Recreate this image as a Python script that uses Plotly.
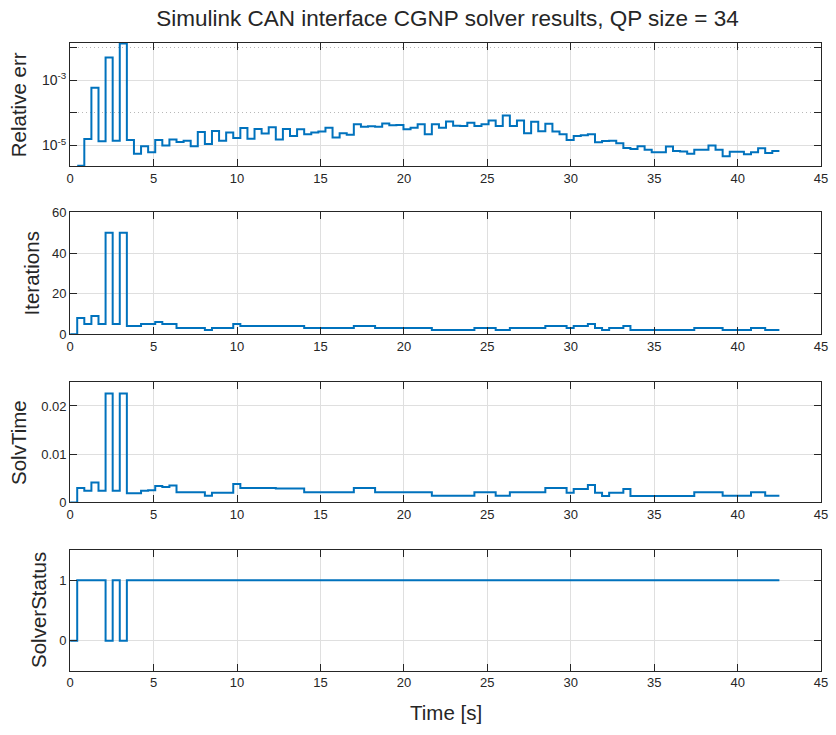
import plotly.graph_objects as go

# ---- data ----
time_s = [0, 0.425, 0.85, 1.275, 1.7, 2.125, 2.55, 2.975, 3.4, 3.825,
          4.25, 4.675, 5.1, 5.525, 5.95, 6.375, 6.8, 7.225, 7.65, 8.075,
          8.5, 8.925, 9.35, 9.775, 10.2, 10.625, 11.05, 11.475, 11.9, 12.325,
          12.75, 13.175, 13.6, 14.025, 14.45, 14.875, 15.3, 15.725, 16.15, 16.575,
          17.0, 17.425, 17.85, 18.275, 18.7, 19.125, 19.55, 19.975, 20.4, 20.825,
          21.25, 21.675, 22.1, 22.525, 22.95, 23.375, 23.8, 24.225, 24.65, 25.075,
          25.5, 25.925, 26.35, 26.775, 27.2, 27.625, 28.05, 28.475, 28.9, 29.325,
          29.75, 30.175, 30.6, 31.025, 31.45, 31.875, 32.3, 32.725, 33.15, 33.575,
          34.0, 34.425, 34.85, 35.275, 35.7, 36.125, 36.55, 36.975, 37.4, 37.825,
          38.25, 38.675, 39.1, 39.525, 39.95, 40.375, 40.8, 41.225, 41.65, 42.075,
          42.5]

relative_err = [None, 2.40e-6, 1.58e-5, 5.9e-4, 1.35e-5, 5.0e-3, 1.41e-5, 1.35e-2, 1.48e-5, 5.6e-6,
                9.5e-6, 6.3e-6, 1.48e-5, 1.0e-5, 1.55e-5, 1.29e-5, 1.41e-5, 9.5e-6, 2.63e-5, 1.12e-5,
                2.82e-5, 1.41e-5, 2.51e-5, 1.70e-5, 3.47e-5, 1.62e-5, 3.24e-5, 2.34e-5, 3.63e-5, 1.55e-5,
                3.24e-5, 1.95e-5, 3.16e-5, 2.24e-5, 2.51e-5, 2.69e-5, 3.55e-5, 1.78e-5, 2.40e-5, 2.14e-5,
                4.47e-5, 3.80e-5, 3.89e-5, 3.80e-5, 4.79e-5, 4.17e-5, 4.27e-5, 3.16e-5, 3.55e-5, 4.47e-5,
                2.24e-5, 4.47e-5, 3.55e-5, 5.50e-5, 4.07e-5, 3.98e-5, 5.01e-5, 3.98e-5, 4.47e-5, 5.89e-5,
                3.98e-5, 8.32e-5, 3.98e-5, 5.89e-5, 2.40e-5, 5.37e-5, 2.75e-5, 4.68e-5, 2.69e-5, 2.24e-5,
                1.48e-5, 1.95e-5, 2.09e-5, 2.24e-5, 1.26e-5, 1.38e-5, 1.41e-5, 1.17e-5, 8.5e-6, 7.8e-6,
                9.5e-6, 7.4e-6, 6.2e-6, 6.3e-6, 9.3e-6, 6.8e-6, 6.6e-6, 5.6e-6, 7.4e-6, 7.4e-6,
                1.0e-5, 7.4e-6, 4.7e-6, 6.5e-6, 6.5e-6, 5.4e-6, 6.3e-6, 8.3e-6, 5.9e-6, 6.8e-6,
                6.8e-6]

iterations = [0, 8, 5, 9, 5, 50, 5, 50, 4, 4,
              5, 5, 6, 5, 5, 3, 3, 3, 3, 2,
              3, 3, 3, 5, 4, 4, 4, 4, 4, 4,
              4, 4, 4, 3, 3, 3, 3, 3, 3, 3,
              4, 4, 4, 3, 3, 3, 3, 3, 3, 3,
              3, 2, 2, 2, 2, 2, 2, 3, 3, 3,
              2, 2, 3, 3, 3, 3, 3, 4, 4, 4,
              3, 4, 4, 5, 3, 2, 3, 3, 4, 2,
              2, 2, 2, 2, 2, 2, 2, 2, 3, 3,
              3, 3, 2, 2, 2, 2, 3, 3, 2, 2,
              2]

solv_time = [0, 0.0030, 0.0024, 0.0041, 0.0024, 0.0226, 0.0024, 0.0226, 0.0019, 0.0019,
             0.0024, 0.0025, 0.0034, 0.0032, 0.0035, 0.0021, 0.0021, 0.0021, 0.0021, 0.0014,
             0.0020, 0.0020, 0.0020, 0.0038, 0.0030, 0.0030, 0.0030, 0.0030, 0.0030, 0.0029,
             0.0029, 0.0029, 0.0029, 0.0021, 0.0021, 0.0021, 0.0021, 0.0021, 0.0021, 0.0021,
             0.0030, 0.0030, 0.0030, 0.0021, 0.0021, 0.0021, 0.0021, 0.0021, 0.0021, 0.0021,
             0.0021, 0.0014, 0.0014, 0.0014, 0.0014, 0.0014, 0.0014, 0.0021, 0.0021, 0.0021,
             0.0014, 0.0014, 0.0021, 0.0021, 0.0021, 0.0021, 0.0021, 0.0030, 0.0030, 0.0030,
             0.0020, 0.0028, 0.0028, 0.0036, 0.0020, 0.0013, 0.0020, 0.0020, 0.0028, 0.0013,
             0.0013, 0.0013, 0.0013, 0.0013, 0.0013, 0.0013, 0.0013, 0.0013, 0.0021, 0.0021,
             0.0021, 0.0021, 0.0014, 0.0014, 0.0014, 0.0014, 0.0021, 0.0021, 0.0014, 0.0014,
             0.0014]

solver_status = [0, 1, 1, 1, 1, 0, 1, 0, 1, 1,
                 1, 1, 1, 1, 1, 1, 1, 1, 1, 1,
                 1, 1, 1, 1, 1, 1, 1, 1, 1, 1,
                 1, 1, 1, 1, 1, 1, 1, 1, 1, 1,
                 1, 1, 1, 1, 1, 1, 1, 1, 1, 1,
                 1, 1, 1, 1, 1, 1, 1, 1, 1, 1,
                 1, 1, 1, 1, 1, 1, 1, 1, 1, 1,
                 1, 1, 1, 1, 1, 1, 1, 1, 1, 1,
                 1, 1, 1, 1, 1, 1, 1, 1, 1, 1,
                 1, 1, 1, 1, 1, 1, 1, 1, 1, 1,
                 1]

x_ticks = [0, 5, 10, 15, 20, 25, 30, 35, 40, 45]
title_text = "Simulink CAN interface CGNP solver results, QP size = 34"
y_labels = ["Relative err", "Iterations", "SolvTime", "SolverStatus"]
xlabel_text = "Time [s]"

# ---- layout geometry ----
W, H = 836, 735
FONT = "Liberation Sans, Arial, Helvetica, sans-serif"
AX = "#262626"
GRID = "#dfdfdf"
LINE = "#0072BD"

x_left, x_right = 67, 828
panels_px = [(36.7, 162.3), (209.7, 334.0), (382.7, 505.7), (554.3, 677.7)]
label_x_px = [15, 27.5, 14, 35]

fig = go.Figure()
series = [relative_err, iterations, solv_time, solver_status]
for i, s in enumerate(series):
    fig.add_trace(go.Scatter(
        x=time_s, y=s, mode="lines", line=dict(color=LINE, width=2, shape="hv"),
        xaxis="x" if i == 0 else f"x{i+1}", yaxis="y" if i == 0 else f"y{i+1}",
        showlegend=False, hoverinfo="skip", connectgaps=False))

common_axis = dict(
    showline=True, linecolor=AX, linewidth=1, mirror="ticks",
    ticks="inside", ticklen=7, tickcolor=AX, tickwidth=1,
    showgrid=True, gridcolor=GRID, gridwidth=1, zeroline=False,
    tickfont=dict(family=FONT, size=13, color=AX),
)

layout = dict(
    width=W, height=H, margin=dict(l=0, r=0, t=0, b=0),
    paper_bgcolor="white", plot_bgcolor="white",
    font=dict(family=FONT, color=AX),
    title=dict(text=title_text, x=(x_left + x_right) / 2 / W, xanchor="center",
               y=1 - 18 / H, yanchor="middle",
               font=dict(family=FONT, size=22.5, color=AX)),
)

annotations = []
for i, (top, bot) in enumerate(panels_px):
    xn = "xaxis" if i == 0 else f"xaxis{i+1}"
    yn = "yaxis" if i == 0 else f"yaxis{i+1}"
    yid = "y" if i == 0 else f"y{i+1}"
    xid = "x" if i == 0 else f"x{i+1}"
    layout[xn] = dict(common_axis, domain=[x_left / W, x_right / W], range=[0, 45],
                      tickmode="array", tickvals=x_ticks, anchor=yid)
    ya = dict(common_axis, domain=[1 - bot / H, 1 - top / H], anchor=xid)
    if i == 0:
        ya.update(type="log", range=[-5.625, -1.855], tickmode="array",
                  tickvals=[1e-5, 1e-3],
                  ticktext=["10<sup>-5</sup>", "10<sup>-3</sup>"],
                  tickfont=dict(family=FONT, size=14, color=AX),
                  minor=dict(tickmode="array", tickvals=[1e-4, 1e-2], ticks="inside",
                             ticklen=7, tickcolor=AX, showgrid=True,
                             gridcolor="#b8b8b8", griddash="1px,3px", gridwidth=1))
    elif i == 1:
        ya.update(range=[0, 60], tickmode="array", tickvals=[0, 20, 40, 60])
    elif i == 2:
        ya.update(range=[0, 0.025], tickmode="array", tickvals=[0, 0.01, 0.02],
                  ticktext=["0", "0.01", "0.02"])
    else:
        ya.update(range=[-0.5, 1.5], tickmode="array", tickvals=[0, 1])
    layout[yn] = ya
    annotations.append(dict(
        text=y_labels[i], xref="paper", yref="paper",
        x=label_x_px[i] / W, y=1 - (top + bot) / 2 / H,
        xanchor="center", yanchor="middle", textangle=-90, showarrow=False,
        font=dict(family=FONT, size=20.5, color=AX)))

annotations.append(dict(
    text=xlabel_text, xref="paper", yref="paper",
    x=(x_left + x_right) / 2 / W, y=1 - 720 / H, xanchor="center", yanchor="middle",
    showarrow=False, font=dict(family=FONT, size=20.5, color=AX)))

layout["annotations"] = annotations
fig.update_layout(**layout)
fig.write_html("out.html")
